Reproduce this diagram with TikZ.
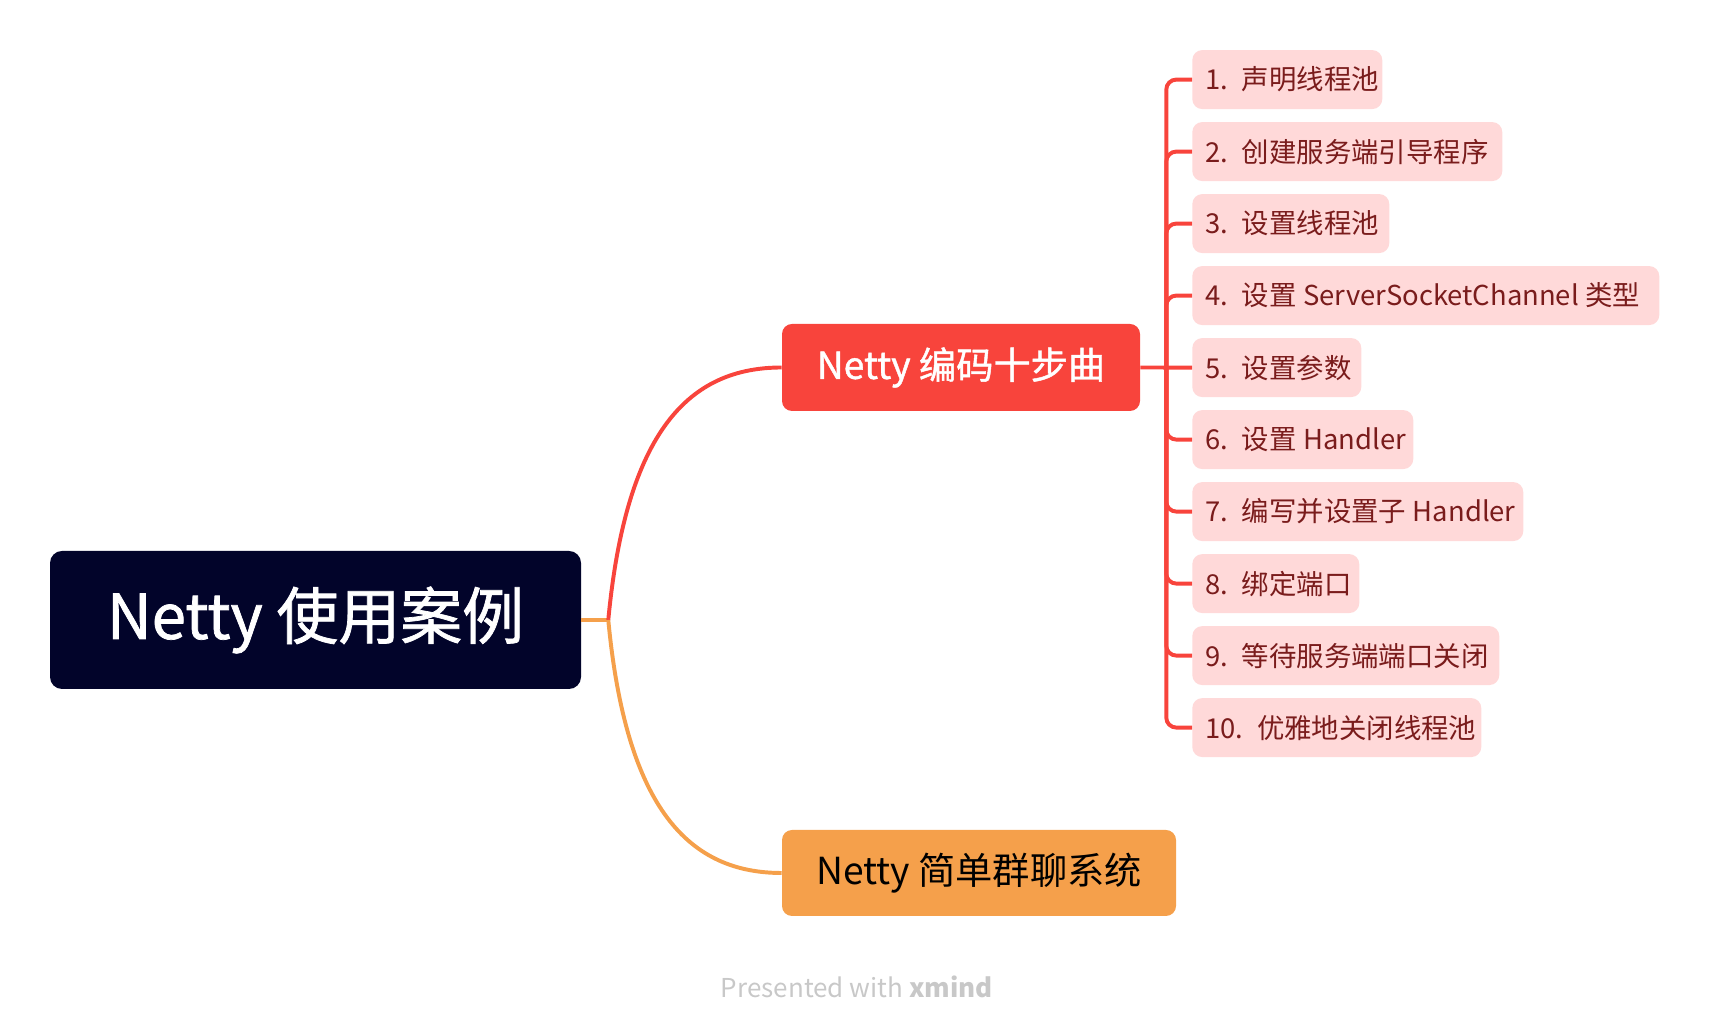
\documentclass[tikz,border=0pt]{standalone}
\usepackage{fontspec}
\setmainfont{Noto Sans CJK SC}
\newfontfamily\medfont[FakeBold=1.2]{Noto Sans CJK SC}

\definecolor{rootnavy}{HTML}{02042A}
\definecolor{stepred}{HTML}{F8443C}
\definecolor{chatorange}{HTML}{F5A04B}
\definecolor{steppink}{HTML}{FFD9D9}
\definecolor{steptext}{HTML}{7A1C1C}
\definecolor{footgray}{HTML}{C8C8C8}

\tikzset{
  rootbox/.style={fill=rootnavy, text=white, rounded corners=0.3cm, minimum width=13.275cm, minimum height=3.45cm, font=\medfont\fontsize{44}{53}\selectfont},
  mainbox/.style={rounded corners=0.25cm, minimum height=2.175cm, font=\fontsize{26.5}{32}\selectfont},
  stepbox/.style={fill=steppink, text=steptext, rounded corners=0.25cm, anchor=west, minimum height=1.475cm, inner xsep=0.325cm, text width=#1, align=left, font=\fontsize{19.5}{23}\selectfont, execute at begin node={\rightskip=0pt minus 5cm\relax\spaceskip=0.24em\relax}},
  link/.style={line width=2.8pt},
}

\begin{document}
\begin{tikzpicture}
\useasboundingbox (0,0) rectangle (42.75,25.9);

% root and the two main topics
\node[rootbox] (root) at (7.8875,10.4) {Netty 使用案例};
\node[mainbox, fill=stepred, text=white, minimum width=8.95cm, font=\medfont\fontsize{26.5}{32}\selectfont] (steps) at (24.025,16.7125) {Netty 编码十步曲};
\node[mainbox, fill=chatorange, text=black, minimum width=9.85cm, minimum height=2.15cm] (chat) at (24.475,4.075) {Netty 简单群聊系统};

% the ten steps
\node[stepbox=4.1cm] (s1) at (29.8,23.91) {1. 声明线程池};
\node[stepbox=7.1cm] (s2) at (29.8,22.11) {2. 创建服务端引导程序};
\node[stepbox=4.275cm] (s3) at (29.8,20.31) {3. 设置线程池};
\node[stepbox=11.025cm] (s4) at (29.8,18.51) {4. 设置 ServerSocketChannel 类型};
\node[stepbox=3.575cm] (s5) at (29.8,16.71) {5. 设置参数};
\node[stepbox=4.875cm] (s6) at (29.8,14.91) {6. 设置 Handler};
\node[stepbox=7.625cm] (s7) at (29.8,13.11) {7. 编写并设置子 Handler};
\node[stepbox=3.525cm] (s8) at (29.8,11.31) {8. 绑定端口};
\node[stepbox=7.025cm] (s9) at (29.8,9.51) {9. 等待服务端端口关闭};
\node[stepbox=6.575cm] (s10) at (29.8,7.71) {10. 优雅地关闭线程池};

% connectors
\coordinate (fork) at ([xshift=0.675cm]root.east);
\coordinate (spine) at ([xshift=0.65cm]steps.east);

\draw[link, chatorange] (root.east) -- (fork);
\draw[link, stepred] (fork) .. controls +(0.45,4.75) and +(-2.3,0) .. (steps.west);
\draw[link, chatorange] (fork) .. controls +(0.45,-4.75) and +(-2.3,0) .. (chat.west);

\draw[link, stepred] (steps.east) -- (s5.west);
\draw[link, stepred, rounded corners=0.25cm] (spine) |- (s1.west);
\draw[link, stepred, rounded corners=0.25cm] (spine) |- (s2.west);
\draw[link, stepred, rounded corners=0.25cm] (spine) |- (s3.west);
\draw[link, stepred, rounded corners=0.25cm] (spine) |- (s4.west);
\draw[link, stepred, rounded corners=0.25cm] (spine) |- (s6.west);
\draw[link, stepred, rounded corners=0.25cm] (spine) |- (s7.west);
\draw[link, stepred, rounded corners=0.25cm] (spine) |- (s8.west);
\draw[link, stepred, rounded corners=0.25cm] (spine) |- (s9.west);
\draw[link, stepred, rounded corners=0.25cm] (spine) |- (s10.west);

\node[text=footgray, font=\fontsize{18.5}{22}\selectfont] (credit) at (21.425,1.225) {Presented with \textbf{xmind}};
\end{tikzpicture}
\end{document}
